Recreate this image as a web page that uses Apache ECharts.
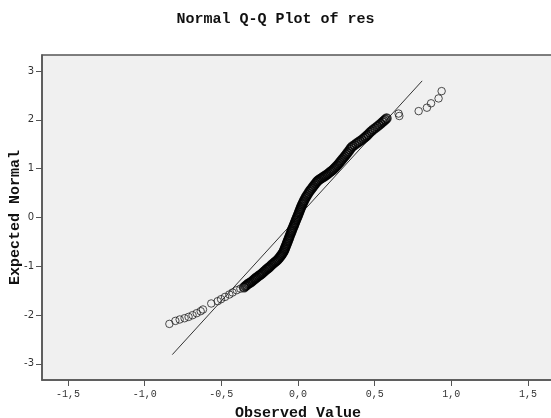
<!DOCTYPE html>
<html>
<head>
<meta charset="utf-8">
<script src="https://cdn.jsdelivr.net/npm/echarts@6/dist/echarts.min.js"></script>
<style>html,body{margin:0;padding:0;background:#fff}#c{width:551px;height:418px}</style>
</head>
<body>
<div id="c"></div>
<script>
const lowTailObs = [-0.839,-0.800,-0.772,-0.740,-0.714,-0.688,-0.661,-0.635,-0.620,-0.566,-0.524,-0.502,-0.476,-0.448,-0.427,-0.400,-0.376];
const lowTailExp = [-2.180,-2.119,-2.090,-2.064,-2.037,-2.002,-1.961,-1.920,-1.885,-1.762,-1.715,-1.674,-1.627,-1.578,-1.537,-1.490,-1.459];

const bandObs = [-0.352,-0.343,-0.335,-0.326,-0.318,-0.309,-0.300,-0.291,-0.283,-0.275,-0.266,-0.257,-0.249,-0.240,-0.232,-0.224,-0.216,-0.208,-0.200,-0.192,-0.185,
  -0.177,-0.169,-0.160,-0.151,-0.143,-0.135,-0.128,-0.121,-0.115,-0.109,-0.103,-0.097,
  -0.092,-0.088,-0.084,-0.080,-0.076,-0.072,-0.068,-0.064,-0.060,-0.056,-0.052,-0.047,
  -0.043,-0.040,-0.036,-0.031,-0.027,-0.023,-0.019,-0.015,-0.011,-0.006,-0.002,0.002,0.006,0.010,0.014,0.018,
  0.022,0.027,0.032,0.037,0.042,0.048,0.054,0.061,0.068,0.075,0.082,0.090,0.098,0.106,0.114,0.121,
  0.128,0.136,0.145,0.154,0.163,0.172,0.181,0.190,0.199,0.208,0.217,0.226,0.234,
  0.242,0.250,0.258,0.266,0.274,0.282,0.290,0.298,0.306,0.314,0.322,0.330,0.338,0.346,0.355,
  0.368,0.380,0.392,0.404,0.416,0.428,0.438,0.448,0.458,0.468,0.479,0.490,0.503,0.516,0.528,0.540,0.551,0.560,0.569,0.578];
const bandExp = [-1.430,-1.405,-1.385,-1.362,-1.345,-1.328,-1.308,-1.285,-1.262,-1.240,-1.220,-1.198,-1.180,-1.160,-1.138,-1.115,-1.092,-1.070,-1.050,-1.030,-1.010,
  -0.985,-0.960,-0.938,-0.915,-0.893,-0.872,-0.848,-0.822,-0.797,-0.772,-0.745,-0.715,
  -0.685,-0.655,-0.625,-0.590,-0.560,-0.528,-0.495,-0.462,-0.430,-0.395,-0.360,-0.325,
  -0.292,-0.260,-0.228,-0.195,-0.162,-0.130,-0.098,-0.065,-0.032,0.000,0.032,0.065,0.097,0.130,0.162,0.195,
  0.228,0.262,0.295,0.328,0.360,0.395,0.430,0.465,0.500,0.535,0.565,0.598,0.630,0.662,0.695,0.725,
  0.748,0.770,0.790,0.808,0.826,0.845,0.865,0.885,0.905,0.928,0.950,0.972,0.995,
  1.020,1.048,1.075,1.105,1.135,1.165,1.198,1.228,1.258,1.290,1.322,1.355,1.390,1.425,1.458,
  1.485,1.512,1.540,1.565,1.592,1.620,1.648,1.675,1.705,1.738,1.770,1.800,1.830,1.862,1.892,1.925,1.955,1.980,2.005,2.032];

const highTailObs = [0.656,0.661,0.787,0.841,0.868,0.917,0.937];
const highTailExp = [2.130,2.080,2.180,2.250,2.340,2.440,2.590];

const refLineObs = [-0.82, 0.81];
const refLineExp = [-2.81, 2.80];

const xTicks = [-1.5,-1.0,-0.5,0.0,0.5,1.0,1.5];
const yTicks = [-3,-2,-1,0,1,2,3];

function pairs(xs, ys){ return xs.map((x,i)=>[x, ys[i]]); }
const tails = pairs(lowTailObs, lowTailExp).concat(pairs(highTailObs, highTailExp));
const band = pairs(bandObs, bandExp);

const chart = echarts.init(document.getElementById('c'), null, {renderer:'canvas'});
const mono = 'Liberation Mono';
chart.setOption({
  animation:false,
  backgroundColor:'#ffffff',
  title:{
    text:'Normal Q-Q Plot of res', left:'center', top:7,
    textStyle:{fontFamily:mono, fontWeight:'bold', fontSize:15, color:'#111'}
  },
  grid:{
    left:42, top:55, width:512, height:325, outerBoundsMode:'none', containLabel:false,
    show:true, backgroundColor:'#f0f0f0', borderColor:'#555', borderWidth:1.5
  },
  xAxis:{
    type:'value', min:-1.67, max:1.67,
    name:'Observed Value', nameLocation:'middle', nameGap:26, nameMoveOverlap:false,
    nameTextStyle:{fontFamily:mono, fontWeight:'bold', fontSize:15, color:'#111'},
    axisLine:{show:true, onZero:false, lineStyle:{color:'#555', width:1.5}},
    axisTick:{show:true, length:6, customValues:xTicks, lineStyle:{color:'#555'}},
    axisLabel:{customValues:xTicks, margin:9, fontFamily:mono, fontSize:10, color:'#333',
      formatter:v=>v.toFixed(1).replace('.',',')},
    splitLine:{show:false}
  },
  yAxis:{
    type:'value', min:-3.33, max:3.33,
    name:'Expected Normal', nameLocation:'middle', nameGap:19, nameRotate:90, nameMoveOverlap:false,
    nameTextStyle:{fontFamily:mono, fontWeight:'bold', fontSize:15, color:'#111'},
    axisLine:{show:true, onZero:false, lineStyle:{color:'#555', width:1.5}},
    axisTick:{show:true, length:6, customValues:yTicks, lineStyle:{color:'#555'}},
    axisLabel:{customValues:yTicks, margin:8, fontFamily:'DejaVu Sans', fontSize:10, color:'#333',
      formatter:v=>String(Math.round(v))},
    splitLine:{show:false}
  },
  series:[
    {
      type:'line', data:pairs(refLineObs, refLineExp), symbol:'none',
      lineStyle:{color:'#333', width:1}, z:2
    },
    {
      type:'scatter', data:band, symbol:'circle', symbolSize:8.5,
      itemStyle:{color:'rgba(0,0,0,0)', borderColor:'#000', borderWidth:1.8}, z:3
    },
    {
      type:'scatter', data:tails, symbol:'circle', symbolSize:7.5,
      itemStyle:{color:'rgba(0,0,0,0)', borderColor:'#222', borderWidth:1}, z:3
    }
  ]
});
</script>
</body>
</html>
